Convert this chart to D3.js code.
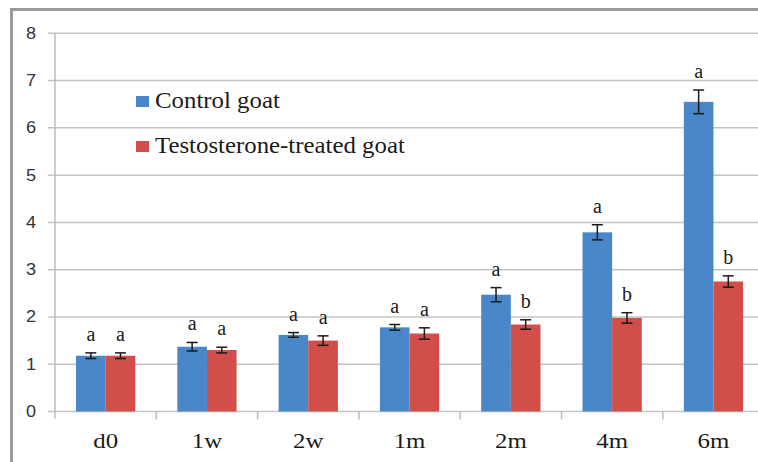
<!DOCTYPE html>
<html>
<head>
<meta charset="utf-8">
<script src="https://cdn.jsdelivr.net/npm/d3@7"></script>
<style>
  html, body { margin: 0; padding: 0; background: #fff; }
  svg { display: block; }
</style>
</head>
<body>
<svg id="chart" width="758" height="462"></svg>
<script>
// Sampling times and group means with their errors
const categories = ["d0", "1w", "2w", "1m", "2m", "4m", "6m"];
const seriesNames = ["Control goat", "Testosterone-treated goat"];
const controlValues = [1.18, 1.37, 1.62, 1.78, 2.47, 3.79, 6.55];
const treatedValues = [1.18, 1.30, 1.50, 1.65, 1.84, 1.98, 2.75];
const controlErrors = [0.06, 0.09, 0.05, 0.06, 0.15, 0.16, 0.25];
const treatedErrors = [0.06, 0.06, 0.10, 0.12, 0.10, 0.11, 0.12];
const controlLetters = ["a", "a", "a", "a", "a", "a", "a"];
const treatedLetters = ["a", "a", "a", "a", "b", "b", "b"];
const yTicks = [0, 1, 2, 3, 4, 5, 6, 7, 8];

const colors = ["#4A87C8", "#D24E4A"];
const stretch = 1.13; // text is drawn slightly wide

const svg = d3.select("#chart");

// outer frame
svg.append("line").attr("x1", 11).attr("x2", 758).attr("y1", 9.5).attr("y2", 9.5)
  .attr("stroke", "#9a9a9a").attr("stroke-width", 3);
svg.append("line").attr("x1", 11.5).attr("x2", 11.5).attr("y1", 8).attr("y2", 462)
  .attr("stroke", "#9a9a9a").attr("stroke-width", 3);

const left = 55, step = 101.3;
const x = d3.scaleBand().domain(categories)
  .range([left, left + step * categories.length])
  .paddingInner(0.415).paddingOuter(0.2075);
const xs = d3.scaleBand().domain([0, 1]).range([0, x.bandwidth()]);
const y = d3.scaleLinear().domain([0, 8]).range([411.5, 33.3]);

// horizontal gridlines
svg.append("g").selectAll("line").data(yTicks).join("line")
  .attr("x1", left - 7).attr("x2", 758)
  .attr("y1", d => y(d)).attr("y2", d => y(d))
  .attr("stroke", "#c4c4c4").attr("stroke-width", 1.5);

// value axis line
svg.append("line").attr("x1", left).attr("x2", left)
  .attr("y1", y(8)).attr("y2", y(0) + 7)
  .attr("stroke", "#bdbdbd").attr("stroke-width", 1.5);

// category tick marks between groups
svg.append("g").selectAll("line").data(categories.slice(1)).join("line")
  .attr("x1", d => x(d) - x.step() * x.paddingInner() / 2)
  .attr("x2", d => x(d) - x.step() * x.paddingInner() / 2)
  .attr("y1", y(0)).attr("y2", y(0) + 8)
  .attr("stroke", "#bdbdbd").attr("stroke-width", 1.5);

// y tick labels
svg.append("g").selectAll("text").data(yTicks).join("text")
  .attr("transform", d => `translate(36,${y(d) + 5.5}) scale(${stretch},1)`)
  .attr("text-anchor", "end")
  .attr("font-family", "Liberation Sans, Arial, sans-serif")
  .attr("font-size", 16).attr("fill", "#333")
  .text(d => d);

// x category labels
svg.append("g").selectAll("text").data(categories).join("text")
  .attr("transform", d => `translate(${x(d) + x.bandwidth() / 2},448) scale(${stretch},1)`)
  .attr("text-anchor", "middle")
  .attr("font-family", "Liberation Serif, Times New Roman, serif")
  .attr("font-size", 22).attr("fill", "#1a1a1a")
  .text(d => d);

const rows = categories.map((c, i) => [
  { c, s: 0, v: controlValues[i], e: controlErrors[i], l: controlLetters[i] },
  { c, s: 1, v: treatedValues[i], e: treatedErrors[i], l: treatedLetters[i] }
]).flat();

// bars
svg.append("g").selectAll("rect").data(rows).join("rect")
  .attr("x", d => x(d.c) + xs(d.s))
  .attr("width", xs.bandwidth())
  .attr("y", d => y(d.v))
  .attr("height", d => y(0) - y(d.v))
  .attr("fill", d => colors[d.s]);

// error bars
const eg = svg.append("g").attr("stroke", "#1a1a1a").attr("stroke-width", 1.5);
rows.forEach(d => {
  const cx = x(d.c) + xs(d.s) + xs.bandwidth() / 2;
  eg.append("line").attr("x1", cx).attr("x2", cx)
    .attr("y1", y(d.v + d.e)).attr("y2", y(d.v - d.e));
  [d.v + d.e, d.v - d.e].forEach(v => {
    eg.append("line").attr("x1", cx - 5.5).attr("x2", cx + 5.5)
      .attr("y1", y(v)).attr("y2", y(v));
  });
});

// significance letters
svg.append("g").selectAll("text").data(rows).join("text")
  .attr("transform", d => `translate(${x(d.c) + xs(d.s) + xs.bandwidth() / 2},${y(d.v + d.e) - 12})`)
  .attr("text-anchor", "middle")
  .attr("font-family", "Liberation Serif, Times New Roman, serif")
  .attr("font-size", 20).attr("fill", "#1a1a1a")
  .text(d => d.l);

// legend
const legend = svg.append("g");
seriesNames.forEach((name, i) => {
  const ly = 108 + i * 45;
  legend.append("rect").attr("x", 136).attr("y", ly - 12).attr("width", 13).attr("height", 11)
    .attr("fill", colors[i]);
  legend.append("text")
    .attr("transform", `translate(155,${ly}) scale(1.08,1)`)
    .attr("font-family", "Liberation Serif, Times New Roman, serif")
    .attr("font-size", 23).attr("fill", "#1a1a1a")
    .text(name);
});
</script>
</body>
</html>
